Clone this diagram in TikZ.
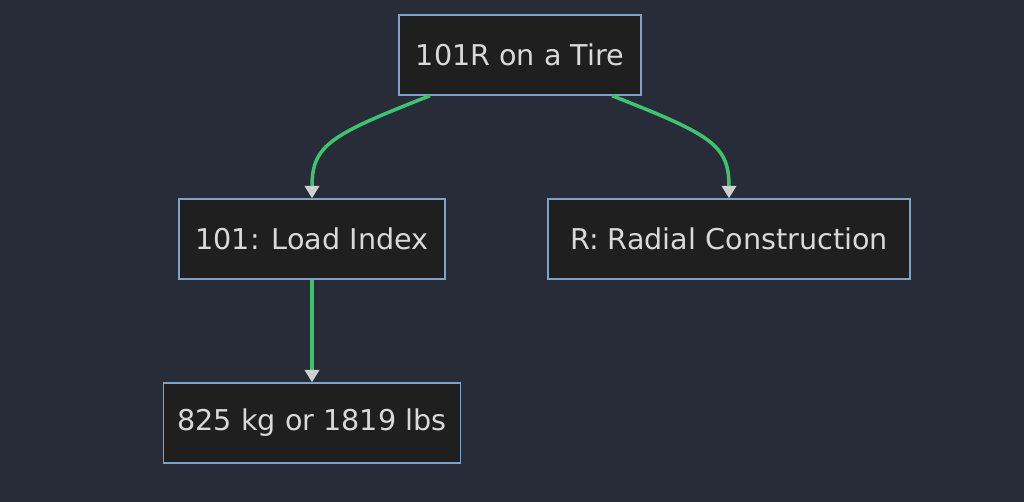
\documentclass[tikz,border=0pt]{standalone}
\usepackage{fontspec}
\setmainfont{DejaVu Sans}
\usetikzlibrary{positioning,arrows.meta}
\definecolor{bgc}{HTML}{282C38}
\definecolor{boxfill}{HTML}{1F1F1F}
\definecolor{boxline}{HTML}{7FA3C8}
\definecolor{linkc}{HTML}{3CC46E}
\definecolor{tipc}{HTML}{D0D0D0}
\tikzset{
  box/.style={draw=boxline, fill=boxfill, text=white!85!black, line width=0.8pt,
    minimum height=80*0.02cm, inner sep=0pt, font=\fontsize{16.3}{19}\selectfont},
  link/.style={draw=linkc, line width=2pt, -{Triangle[color=tipc,length=7pt,width=8pt]}}
}
\begin{document}
\begin{tikzpicture}[x=0.02cm,y=-0.02cm]
		\fill[bgc] (0,0) rectangle (1024,502);
		\useasboundingbox (0,0) rectangle (1024,502);
		
		\node[box, minimum width=242*0.02cm] (tire) at (520,55) {101R on a Tire};
		\node[box, minimum width=266*0.02cm] (load) at (312,239) {101: Load Index};
		\node[box, minimum width=362*0.02cm] (radial) at (729,239) {R: Radial Construction};
		\node[box, minimum width=297*0.02cm] (kg) at (312,423) {825 kg or 1819 lbs};
		
		\draw[link] (tire.south) ++(-90,0) .. controls (330,135) and (312,145) .. (load.north);
		\draw[link] (tire.south) ++(92,0) .. controls (712,135) and (729,145) .. (radial.north);
		\draw[link] (load) -- (kg);
	\end{tikzpicture}
\end{document}
